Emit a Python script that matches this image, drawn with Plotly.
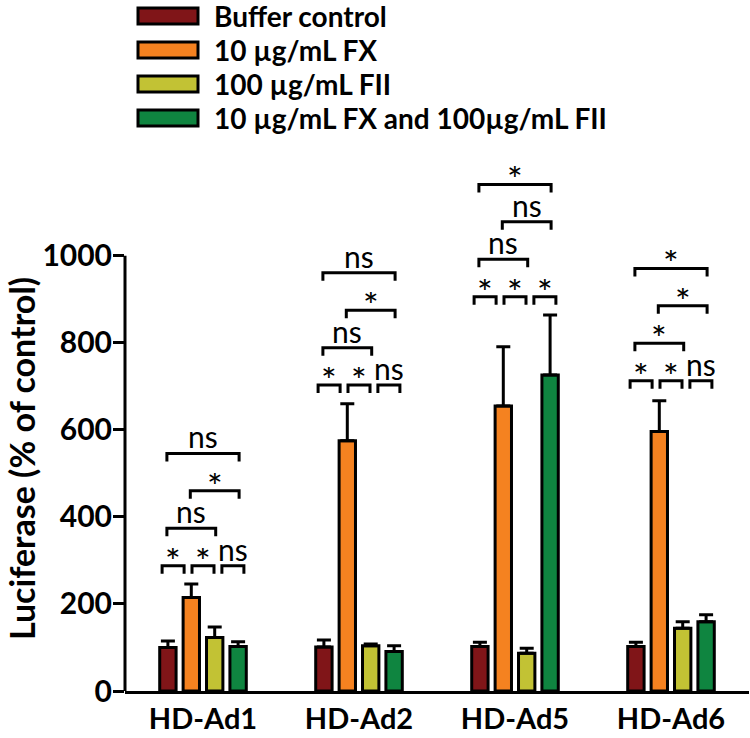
import plotly.graph_objects as go

# ---------------- data ----------------
groups = ["HD-Ad1", "HD-Ad2", "HD-Ad5", "HD-Ad6"]
series_names = ["Buffer control", "10 µg/mL FX", "100 µg/mL FII",
                "10 µg/mL FX and 100µg/mL FII"]
colors = ["#801518", "#F58220", "#C2C234", "#0F8540"]

buffer_vals = [100, 101, 102, 102]
fx_vals = [215, 575, 655, 596]
fii_vals = [123, 104, 87, 144]
combo_vals = [102, 91, 726, 159]

buffer_err = [15, 16, 10, 10]
fx_err = [31, 85, 136, 71]
fii_err = [24, 4, 11, 15]
combo_err = [11, 13, 138, 16]

y_tick_vals = [0, 200, 400, 600, 800, 1000]
y_title = "Luciferase (% of control)"

# significance comparisons (bar index pairs) and their stacking level
bracket_pairs = [(0, 1), (1, 2), (2, 3), (0, 2), (1, 3), (0, 3)]
bracket_levels = [0, 0, 0, 1, 2, 3]
sig_ad1 = ["*", "*", "ns", "ns", "*", "ns"]
sig_ad2 = ["*", "*", "ns", "ns", "*", "ns"]
sig_ad5 = ["*", "*", "*", "ns", "ns", "*"]
sig_ad6 = ["*", "*", "ns", "*", "*", "*"]
sig_labels = [sig_ad1, sig_ad2, sig_ad5, sig_ad6]
bracket_base = [288, 703, 906, 713]   # height of the lowest bracket row
bracket_step = 86                     # spacing between bracket rows

# ---------------- geometry / style ----------------
W, H = 750, 738
ML, MR, MT, MB = 125, 1, 147, 47
PW, PH = W - ML - MR, H - MT - MB
Y_MAX = 1250
PX_X = PW / 4.0          # px per category
PX_Y = PH / Y_MAX        # px per value unit
FONT = "Lato"

vals = [buffer_vals, fx_vals, fii_vals, combo_vals]
errs = [buffer_err, fx_err, fii_err, combo_err]
xpos = list(range(len(groups)))

fig = go.Figure()
for name, v, e, c in zip(series_names, vals, errs, colors):
    fig.add_trace(go.Bar(
        x=xpos, y=v, name=name,
        marker=dict(color=c, line=dict(color="black", width=3)),
        error_y=dict(type="data", array=e, arrayminus=[0] * len(e),
                     symmetric=False, color="black", thickness=3, width=7),
        showlegend=False, hoverinfo="skip",
    ))

bargap, slot = 0.4, 0.15
offsets = [(-1.5 + k) * slot for k in range(4)]


def bracket_span(i, j, level):
    if level == 0:
        mid = (offsets[i] + offsets[j]) / 2 + (i - 1) * 6.5 / PX_X
        return mid - 11 / PX_X, mid + 11 / PX_X
    return offsets[i] - 1 / PX_X, offsets[j] + 1 / PX_X


shapes = []
annotations = []
tick_drop = 8 / PX_Y
for g, labels in enumerate(sig_labels):
    for (i, j), lev, lab in zip(bracket_pairs, bracket_levels, labels):
        a, b = bracket_span(i, j, lev)
        x0, x1 = g + a, g + b
        yv = bracket_base[g] + lev * bracket_step
        shapes.append(dict(
            type="path", xref="x", yref="y",
            path=f"M {x0},{yv - tick_drop} L {x0},{yv} L {x1},{yv} L {x1},{yv - tick_drop}",
            line=dict(color="black", width=3),
        ))
        star = lab == "*"
        annotations.append(dict(
            x=(x0 + x1) / 2, y=yv, xref="x", yref="y", text=lab,
            showarrow=False, yanchor="middle", xanchor="center", valign="middle",
            height=24, borderpad=0,
            yshift=6 if star else 17,
            font=dict(family=FONT, size=37 if star else 30, color="black"),
        ))

# y axis line only up to 1000
shapes.append(dict(type="line", xref="paper", yref="y", x0=0, x1=0,
                   y0=0, y1=max(y_tick_vals), line=dict(color="black", width=3)))


def px_to_paper(px, py):
    return (px - ML) / PW, (H - MB - py) / PH


# custom legend with wide swatches
legend_rows_px = [16, 50, 84, 118]
for name, c, ry in zip(series_names, colors, legend_rows_px):
    x0, y0 = px_to_paper(138, ry + 8)
    x1, y1 = px_to_paper(198, ry - 8)
    shapes.append(dict(type="rect", xref="paper", yref="paper",
                       x0=x0, x1=x1, y0=y0, y1=y1, fillcolor=c,
                       line=dict(color="black", width=3)))
    tx, ty = px_to_paper(212, ry)
    annotations.append(dict(x=tx, y=ty, xref="paper", yref="paper", text=name,
                            showarrow=False, xanchor="left", yanchor="middle",
                            font=dict(family=FONT, size=28, weight=700, color="black")))

# y axis title
tx, ty = px_to_paper(21, 459)
annotations.append(dict(x=tx, y=ty, xref="paper", yref="paper", text=y_title,
                        textangle=-90, showarrow=False, xanchor="center", yanchor="middle",
                        font=dict(family=FONT, size=34, weight=700, color="black")))

fig.update_layout(
    width=W, height=H,
    margin=dict(l=ML, r=MR, t=MT, b=MB, autoexpand=False),
    paper_bgcolor="white", plot_bgcolor="white",
    barmode="group", bargap=bargap, bargroupgap=0.3,
    shapes=shapes, annotations=annotations,
    font=dict(family=FONT, color="black"),
    hovermode=False,
    xaxis=dict(range=[-0.5, 3.5], tickvals=xpos, ticktext=groups,
               showline=True, linewidth=3, linecolor="black", ticks="",
               showgrid=False, zeroline=False, ticklabelstandoff=0,
               tickfont=dict(family=FONT, size=29, weight=700, color="black")),
    yaxis=dict(range=[0, Y_MAX], tickvals=y_tick_vals, showline=False,
               ticks="outside", ticklen=11, tickwidth=3, tickcolor="black",
               showgrid=False, zeroline=False, ticklabelstandoff=-5,
               tickfont=dict(family=FONT, size=30, weight=700, color="black")),
)

fig.write_html("out.html", config={"displayModeBar": False},
               post_script="document.body.style.margin='0px';")
